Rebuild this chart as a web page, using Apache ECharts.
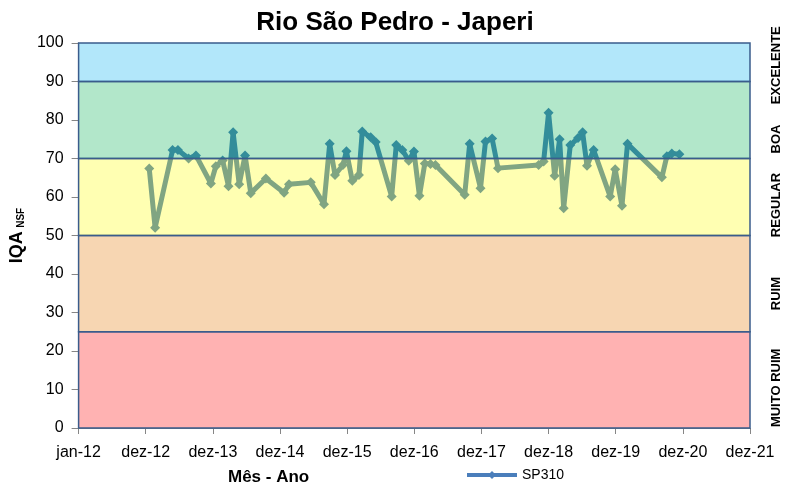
<!DOCTYPE html>
<html>
<head>
<meta charset="utf-8">
<script src="https://cdn.jsdelivr.net/npm/echarts@6/dist/echarts.min.js"></script>
<style>
  html, body { margin: 0; padding: 0; background: #fff; }
  #chart { width: 790px; height: 489px; }
</style>
</head>
<body>
<div id="chart"></div>
<script>
// datas de coleta (SP310) e valores do IQA
var sampleDates = [
  '2013-01-19', '2013-02-20', '2013-05-26', '2013-06-24', '2013-08-21', '2013-09-30',
  '2013-12-20', '2014-01-16', '2014-02-22', '2014-03-26', '2014-04-20', '2014-05-23',
  '2014-06-24', '2014-07-25', '2014-10-15', '2015-01-22', '2015-02-18', '2015-06-16',
  '2015-08-27', '2015-09-27', '2015-10-26', '2015-12-08', '2015-12-27', '2016-01-28',
  '2016-03-04', '2016-03-22', '2016-05-07', '2016-06-03', '2016-08-29', '2016-09-23',
  '2016-10-26', '2016-11-30', '2016-12-28', '2017-01-27', '2017-02-25', '2017-03-28',
  '2017-04-24', '2017-09-30', '2017-10-27', '2017-12-25', '2018-01-21', '2018-02-26',
  '2018-03-30', '2018-11-06', '2018-12-03', '2018-12-30', '2019-02-01', '2019-02-28',
  '2019-03-22', '2019-04-27', '2019-06-08', '2019-07-03', '2019-07-27', '2019-09-01',
  '2019-11-30', '2019-12-27', '2020-02-02', '2020-03-03', '2020-09-06', '2020-10-03',
  '2020-10-30', '2020-12-10'
];
var iqaValues = [
  67.4, 52.0, 72.2, 72.2, 70.0, 70.8,
  63.5, 68.0, 69.5, 62.8, 76.8, 63.3,
  70.8, 61.0, 64.8, 61.1, 63.3, 63.8,
  58.1, 73.8, 65.7, 68.3, 71.9, 64.2,
  65.7, 77.0, 75.5, 74.3, 60.1, 73.5,
  72.2, 69.4, 71.8, 60.3, 68.7, 68.6,
  68.3, 60.6, 73.8, 62.3, 74.4, 75.2,
  67.5, 68.3, 69.2, 81.9, 65.5, 75.0,
  57.1, 73.5, 75.3, 76.8, 68.1, 72.2,
  60.1, 67.2, 57.7, 73.8, 65.1, 70.6,
  71.3, 71.1
];
var xTickLabels = ['jan-12', 'dez-12', 'dez-13', 'dez-14', 'dez-15', 'dez-16',
                   'dez-17', 'dez-18', 'dez-19', 'dez-20', 'dez-21'];
var bandNames  = ['MUITO RUIM', 'RUIM', 'REGULAR', 'BOA', 'EXCELENTE'];
var bandLimits = [0, 25, 50, 70, 90, 100];
var bandColors = ['rgba(255,0,0,0.3)', 'rgba(230,120,0,0.3)', 'rgba(255,255,0,0.3)',
                  'rgba(0,176,80,0.3)', 'rgba(0,176,240,0.3)'];
// deslocamento vertical dos rotulos das faixas (px, para baixo)
var bandLabelShift = [8, 10, 8, 19, 3];

var FONT = "'Liberation Sans', Arial, sans-serif";
var DAY = 86400000;
var origin = Date.UTC(2012, 0, 1);

function dayOf(s) {
    var p = s.split('-');
    return (Date.UTC(+p[0], +p[1] - 1, +p[2]) - origin) / DAY;
}

var lineData = sampleDates.map(function (d, i) {
    return [dayOf(d), iqaValues[i]];
});

var bandAreas = bandNames.map(function (name, i) {
    return [
        {
            name: name,
            yAxis: bandLimits[i],
            itemStyle: { color: bandColors[i] },
            // rotulo girado 90 graus: offset[0] negativo desce na tela
            label: { offset: [-bandLabelShift[i], 0] }
        },
        { yAxis: bandLimits[i + 1] }
    ];
});

var chart = echarts.init(document.getElementById('chart'));

var option = {
    animation: false,
    backgroundColor: '#fff',
    title: [
        {
            text: 'Rio São Pedro - Japeri',
            left: 'center',
            top: 5,
            textStyle: { fontFamily: FONT, fontSize: 26, fontWeight: 'bold', color: '#000' }
        },
        {
            text: 'Mês - Ano',
            left: 223,
            top: 464,
            textStyle: { fontFamily: FONT, fontSize: 17, fontWeight: 'bold', color: '#000' }
        }
    ],
    legend: {
        data: ['SP310'],
        left: 460,
        top: 463,
        itemWidth: 50,
        itemHeight: 10,
        itemGap: 4,
        lineStyle: { width: 4 },
        textStyle: { fontFamily: FONT, fontSize: 14, color: '#000' }
    },
    grid: {
        left: 77.5,
        right: 40,
        top: 43,
        bottom: 61
    },
    xAxis: {
        type: 'value',
        min: 0,
        max: 3650,
        interval: 365,
        splitLine: { show: false },
        axisLine: { lineStyle: { color: '#868686' } },
        axisTick: { show: true, length: 6, lineStyle: { color: '#868686' } },
        axisLabel: {
            fontFamily: FONT,
            fontSize: 16,
            color: '#000',
            margin: 17,
            formatter: function (v) {
                return xTickLabels[Math.round(v / 365)];
            }
        }
    },
    yAxis: {
        type: 'value',
        min: 0,
        max: 100,
        interval: 10,
        splitLine: { show: false },
        axisLine: { show: true, lineStyle: { color: '#868686' } },
        axisTick: { show: true, length: 7, lineStyle: { color: '#868686' } },
        axisLabel: { fontFamily: FONT, fontSize: 16, color: '#000', margin: 15 },
        name: '{a|IQA} {b|NSF}',
        nameLocation: 'middle',
        nameGap: 52,
        nameRotate: 90,
        nameTextStyle: {
            rich: {
                a: { fontFamily: FONT, fontSize: 18, fontWeight: 'bold', color: '#000' },
                b: { fontFamily: FONT, fontSize: 10, fontWeight: 'bold', color: '#000', padding: [8, 0, 0, 0] }
            }
        }
    },
    series: [
        {
            name: 'SP310',
            type: 'line',
            data: lineData,
            z: 2,
            symbol: 'diamond',
            symbolSize: 10,
            lineStyle: { width: 5, color: '#4a7ebb' },
            itemStyle: { color: '#4a7ebb' },
            markArea: {
                z: 5,
                silent: true,
                itemStyle: { borderColor: '#3a5c8c', borderWidth: 1.5 },
                label: {
                    show: true,
                    position: 'right',
                    distance: 26,
                    rotate: 90,
                    align: 'center',
                    verticalAlign: 'middle',
                    fontFamily: FONT,
                    fontSize: 13,
                    fontWeight: 'bold',
                    color: '#000'
                },
                data: bandAreas
            }
        }
    ]
};

chart.setOption(option);
</script>
</body>
</html>
